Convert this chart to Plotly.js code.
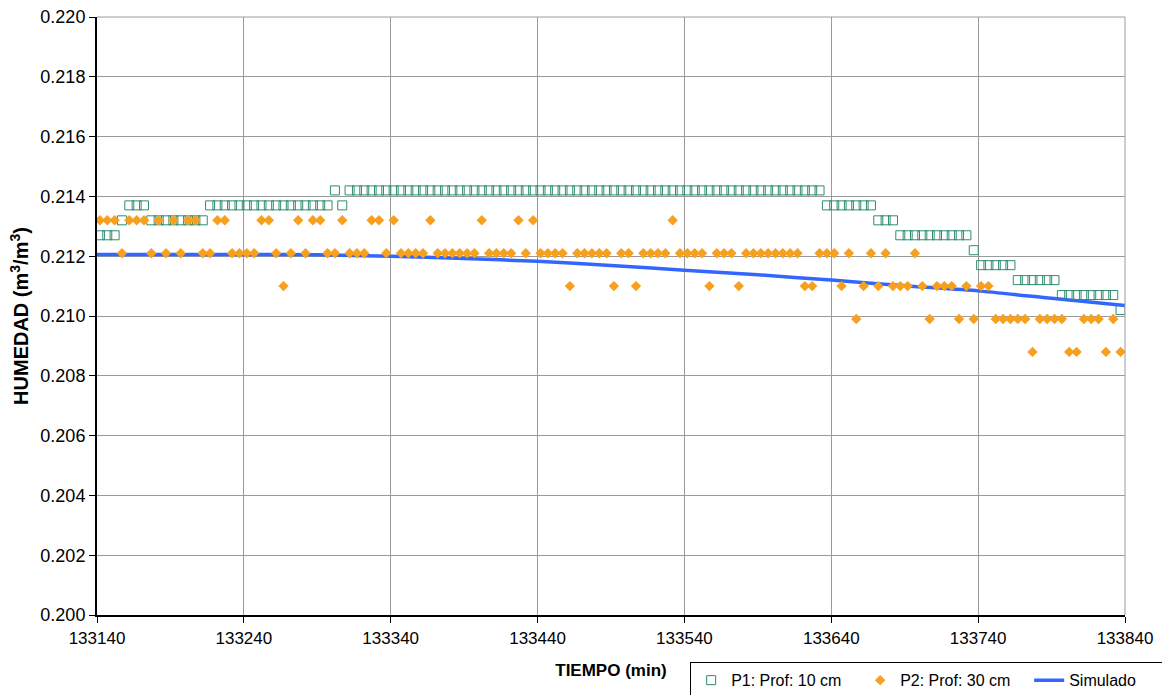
<!DOCTYPE html>
<html>
<head>
<meta charset="utf-8">
<script src="https://cdn.plot.ly/plotly-3.0.1.min.js"></script>
<style>
html,body{margin:0;padding:0;background:#fff;}
#chart{width:1162px;height:695px;overflow:hidden;}
</style>
</head>
<body>
<div id="chart"></div>
<script>
// Time (min) of each measurement
var tiempo = [
133142,133147,133152,133157,133162,133167,133172,133177,133182,133187,
133192,133197,133202,133207,133212,133217,133222,133227,133232,133237,
133242,133247,133252,133257,133262,133267,133272,133277,133282,133287,
133292,133297,133302,133307,133312,133317,133322,133327,133332,133337,
133342,133347,133352,133357,133362,133367,133372,133377,133382,133387,
133392,133397,133402,133407,133412,133417,133422,133427,133432,133437,
133442,133447,133452,133457,133462,133467,133472,133477,133482,133487,
133492,133497,133502,133507,133512,133517,133522,133527,133532,133537,
133542,133547,133552,133557,133562,133567,133572,133577,133582,133587,
133592,133597,133602,133607,133612,133617,133622,133627,133632,133637,
133642,133647,133652,133657,133662,133667,133672,133677,133682,133687,
133692,133697,133702,133707,133712,133717,133722,133727,133732,133737,
133742,133747,133752,133757,133762,133767,133772,133777,133782,133787,
133792,133797,133802,133807,133812,133817,133822,133827,133832,133837
];

// P1: Prof: 10 cm
var p1 = [
0.2127,0.2127,0.2127,0.2132,0.2137,0.2137,0.2137,0.2132,0.2132,0.2132,
0.2132,0.2132,0.2132,0.2132,0.2132,0.2137,0.2137,0.2137,0.2137,0.2137,
0.2137,0.2137,0.2137,0.2137,0.2137,0.2137,0.2137,0.2137,0.2137,0.2137,
0.2137,0.2137,0.2142,0.2137,0.2142,0.2142,0.2142,0.2142,0.2142,0.2142,
0.2142,0.2142,0.2142,0.2142,0.2142,0.2142,0.2142,0.2142,0.2142,0.2142,
0.2142,0.2142,0.2142,0.2142,0.2142,0.2142,0.2142,0.2142,0.2142,0.2142,
0.2142,0.2142,0.2142,0.2142,0.2142,0.2142,0.2142,0.2142,0.2142,0.2142,
0.2142,0.2142,0.2142,0.2142,0.2142,0.2142,0.2142,0.2142,0.2142,0.2142,
0.2142,0.2142,0.2142,0.2142,0.2142,0.2142,0.2142,0.2142,0.2142,0.2142,
0.2142,0.2142,0.2142,0.2142,0.2142,0.2142,0.2142,0.2142,0.2142,0.2137,
0.2137,0.2137,0.2137,0.2137,0.2137,0.2137,0.2132,0.2132,0.2132,0.2127,
0.2127,0.2127,0.2127,0.2127,0.2127,0.2127,0.2127,0.2127,0.2127,0.2122,
0.2117,0.2117,0.2117,0.2117,0.2117,0.2112,0.2112,0.2112,0.2112,0.2112,
0.2112,0.2107,0.2107,0.2107,0.2107,0.2107,0.2107,0.2107,0.2107,0.2102
];

// P2: Prof: 30 cm
var p2 = [
0.2132,0.2132,0.2132,0.2121,0.2132,0.2132,0.2132,0.2121,0.2132,0.2121,
0.2132,0.2121,0.2132,0.2132,0.2121,0.2121,0.2132,0.2132,0.2121,0.2121,
0.2121,0.2121,0.2132,0.2132,0.2121,0.2110,0.2121,0.2132,0.2121,0.2132,
0.2132,0.2121,0.2121,0.2132,0.2121,0.2121,0.2121,0.2132,0.2132,0.2121,
0.2132,0.2121,0.2121,0.2121,0.2121,0.2132,0.2121,0.2121,0.2121,0.2121,
0.2121,0.2121,0.2132,0.2121,0.2121,0.2121,0.2121,0.2132,0.2121,0.2132,
0.2121,0.2121,0.2121,0.2121,0.2110,0.2121,0.2121,0.2121,0.2121,0.2121,
0.2110,0.2121,0.2121,0.2110,0.2121,0.2121,0.2121,0.2121,0.2132,0.2121,
0.2121,0.2121,0.2121,0.2110,0.2121,0.2121,0.2121,0.2110,0.2121,0.2121,
0.2121,0.2121,0.2121,0.2121,0.2121,0.2121,0.2110,0.2110,0.2121,0.2121,
0.2121,0.2110,0.2121,0.2099,0.2110,0.2121,0.2110,0.2121,0.2110,0.2110,
0.2110,0.2121,0.2110,0.2099,0.2110,0.2110,0.2110,0.2099,0.2110,0.2099,
0.2110,0.2110,0.2099,0.2099,0.2099,0.2099,0.2099,0.2088,0.2099,0.2099,
0.2099,0.2099,0.2088,0.2088,0.2099,0.2099,0.2099,0.2088,0.2099,0.2088
];

// Simulado
var tiempoSim = [133140,133190,133240,133290,133340,133390,133440,133490,133540,133590,133640,133690,133740,133790,133840];
var simulado  = [0.21206,0.21206,0.21206,0.21205,0.21200,0.21192,0.21183,0.21169,0.21153,0.21138,0.21120,0.21101,0.21084,0.21059,0.21035];

var xTicks = [133140,133240,133340,133440,133540,133640,133740,133840];
var yTicks = [0.200,0.202,0.204,0.206,0.208,0.210,0.212,0.214,0.216,0.218,0.220];

var FONT = '"Liberation Sans", Arial, sans-serif';

var traces = [
  {
    x: tiempoSim, y: simulado, type: 'scatter', mode: 'lines',
    name: 'Simulado', legendrank: 3,
    line: {color: '#3366FF', width: 3.5, shape: 'spline', smoothing: 0.6}
  },
  {
    x: tiempo, y: p1, type: 'scatter', mode: 'markers',
    name: 'P1: Prof: 10 cm', legendrank: 1,
    marker: {symbol: 'square-open', size: 9, color: '#2F8C72', line: {width: 1, color: '#2F8C72'}}
  },
  {
    x: tiempo, y: p2, type: 'scatter', mode: 'markers',
    name: 'P2: Prof: 30 cm', legendrank: 2,
    marker: {symbol: 'diamond', size: 8, color: '#F7A01E', line: {width: 0}}
  }
];

var layout = {
  width: 1162, height: 695,
  margin: {l: 97, r: 37, t: 17, b: 80, autoexpand: false},
  paper_bgcolor: '#ffffff', plot_bgcolor: '#ffffff',
  font: {family: FONT, size: 17, color: '#000'},
  showlegend: true,
  legend: {
    orientation: 'h', x: 0.577, xanchor: 'left', y: -0.079, yanchor: 'top',
    bordercolor: '#000', borderwidth: 1, bgcolor: '#fff',
    font: {family: FONT, size: 16, color: '#000'},
    traceorder: 'normal', itemwidth: 30, entrywidth: 124
  },
  xaxis: {
    range: [133140, 133840], tickvals: xTicks, tickformat: 'd',
    showgrid: true, gridcolor: '#9a9a9a', gridwidth: 1,
    showline: true, linecolor: '#000', linewidth: 2,
    ticks: 'outside', ticklen: 6, tickcolor: '#000', tickwidth: 1,
    ticklabelstandoff: 1,
    zeroline: false, automargin: false,
    tickfont: {family: FONT, size: 17},
    title: {text: '<b>TIEMPO (min)</b>', font: {family: FONT, size: 17}, standoff: 17}
  },
  yaxis: {
    range: [0.200, 0.220], tickvals: yTicks, tickformat: '.3f',
    showgrid: true, gridcolor: '#9a9a9a', gridwidth: 1,
    showline: true, linecolor: '#000', linewidth: 2,
    ticks: 'outside', ticklen: 6, tickcolor: '#000', tickwidth: 1,
    zeroline: false, automargin: false,
    tickfont: {family: FONT, size: 18},
    title: {text: '<b>HUMEDAD (m<sup>3</sup>/m<sup>3</sup>)</b>', font: {family: FONT, size: 20}, standoff: 6}
  },
  shapes: [
    {type: 'line', xref: 'paper', yref: 'paper', x0: 1, x1: 1, y0: 0, y1: 1, line: {color: '#9a9a9a', width: 1}},
    {type: 'line', xref: 'paper', yref: 'paper', x0: 0, x1: 1, y0: 1, y1: 1, line: {color: '#9a9a9a', width: 1}}
  ]
};

Plotly.newPlot('chart', traces, layout, {displayModeBar: false, staticPlot: true});
</script>
</body>
</html>
